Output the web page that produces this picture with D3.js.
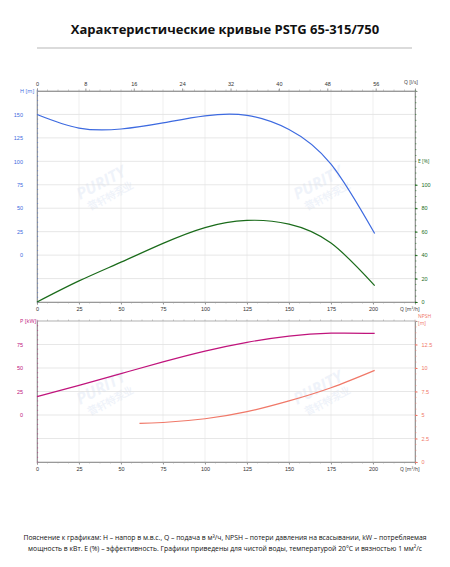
<!DOCTYPE html>
<html><head><meta charset="utf-8">
<script src="https://cdn.jsdelivr.net/npm/d3@7"></script>
<style>
body{margin:0;background:#fff;font-family:"Open Sans",sans-serif}
</style></head>
<body>
<svg id="c" width="450" height="567"></svg>
<script>
// Q flow points for each curve, m3/h
const hQ = [0, 25, 50, 75, 100, 125, 150, 175, 201];
const hVal = [150, 135.5, 134.5, 141, 148.5, 149, 134, 97, 23];
const eQ = [0, 25, 50, 75, 100, 125, 150, 175, 201];
const eVal = [0, 18, 34, 50, 63.5, 69.6, 66.5, 50.3, 14];
const pQ = [0, 25, 50, 75, 100, 125, 150, 175, 201];
const pVal = [19.6, 31.6, 44, 56.5, 68, 77.3, 84, 87, 86.8];
const nQ = [61, 75, 100, 125, 150, 175, 201];
const nVal = [4.1, 4.2, 4.6, 5.35, 6.5, 7.9, 9.75];
const qTicks = [0, 25, 50, 75, 100, 125, 150, 175, 200];
const lsTicks = [0, 8, 16, 24, 32, 40, 48, 56];

const svg = d3.select("#c");
const fs = 5.5;
const grey = "#999";
const cH = "#3d6ae0", cE = "#1a6b1a", cP = "#c0147c", cN = "#f07868";

svg.append("text").attr("x", 225).attr("y", 34).attr("text-anchor", "middle")
  .attr("font-size", 13).attr("font-weight", "bold").attr("fill", "#111")
  .text("Характеристические кривые PSTG 65-315/750");
svg.append("line").attr("x1", 37).attr("x2", 412).attr("y1", 48).attr("y2", 48)
  .attr("stroke", "#888").attr("stroke-width", 0.6);

const x = d3.scaleLinear().domain([0, 225]).range([37, 415]);

function watermark(cx, cy) {
  const g = svg.append("g").attr("transform", `translate(${cx},${cy}) rotate(-28)`).attr("opacity", 0.1);
  g.append("text").attr("font-size", 16).attr("font-weight", "bold").attr("font-style", "italic")
    .attr("fill", "#6b8fd0").text("PURITY");
  g.append("text").attr("y", 14).attr("x", 4).attr("font-size", 10).attr("font-weight", "bold")
    .attr("fill", "#6b8fd0").text("普轩特泵业");
}

function panel(top, bottom, yL, yR, lTicks, rTicks, colL, colR, labL, labR, gridTicks, topLs) {
  const g = svg.append("g");
  g.selectAll(".hg").data(gridTicks).join("line")
    .attr("x1", x(0)).attr("x2", x(225)).attr("y1", d => yL(d)).attr("y2", d => yL(d))
    .attr("stroke", "#ddd").attr("stroke-width", 0.7);
  g.selectAll(".vg").data(qTicks.slice(1)).join("line")
    .attr("x1", d => x(d)).attr("x2", d => x(d)).attr("y1", top).attr("y2", bottom)
    .attr("stroke", "#e4e4e4").attr("stroke-width", 0.6);
  g.append("rect").attr("x", x(0)).attr("y", top).attr("width", x(225) - x(0)).attr("height", bottom - top)
    .attr("fill", "none").attr("stroke", grey).attr("stroke-width", 0.6);

  const styleAxis = (a, col) => {
    a.selectAll("text").attr("font-size", fs).attr("fill", col || "#333");
    a.selectAll("line").attr("stroke", col || grey);
    a.select(".domain").attr("stroke", col || grey);
  };
  const minor = d3.range(0, 226, 6.25);
  const ab = g.append("g").attr("transform", `translate(0,${bottom})`)
    .call(d3.axisBottom(x).tickValues(qTicks).tickSize(2.5).tickPadding(3));
  styleAxis(ab);
  g.selectAll(".mb").data(minor).join("line").attr("x1", d => x(d)).attr("x2", d => x(d))
    .attr("y1", bottom).attr("y2", bottom + 1.5).attr("stroke", grey).attr("stroke-width", 0.5);
  g.append("text").attr("x", 400).attr("y", bottom + 9).attr("font-size", 5).attr("fill", "#333").text("Q [m³/h]");
  if (topLs) {
    const xl = d3.scaleLinear().domain([0, 225 / 3.6]).range([37, 415]);
    const at = g.append("g").attr("transform", `translate(0,${top})`)
      .call(d3.axisTop(xl).tickValues(lsTicks).tickSize(2.5).tickPadding(3));
    styleAxis(at);
    g.append("text").attr("x", 404).attr("y", top - 7).attr("font-size", 5).attr("fill", "#333").text("Q [l/s]");
  }
  g.selectAll(".mt").data(minor).join("line").attr("x1", d => x(d)).attr("x2", d => x(d))
    .attr("y1", top).attr("y2", top - 1.5).attr("stroke", grey).attr("stroke-width", 0.5);
  const al = g.append("g").attr("transform", `translate(${x(0)},0)`)
    .call(d3.axisLeft(yL).tickValues(lTicks).tickSize(0).tickPadding(14));
  styleAxis(al, colL);
  al.select(".domain").attr("stroke", grey);
  const ld = yL.domain();
  g.selectAll(".ml").data(d3.range(ld[0], ld[1] + 0.01, (lTicks[1] - lTicks[0]) / 5)).join("line")
    .attr("x1", x(0)).attr("x2", x(0) + 1.2).attr("y1", d => yL(d)).attr("y2", d => yL(d))
    .attr("stroke", colL).attr("stroke-width", 0.5);
  const ar = g.append("g").attr("transform", `translate(${x(225)},0)`)
    .call(d3.axisRight(yR).tickValues(rTicks).tickFormat(d3.format("~g")).tickSize(2.5).tickPadding(4));
  styleAxis(ar, colR);
  ar.select(".domain").attr("stroke", grey);
  const rd = yR.domain();
  g.selectAll(".mr").data(d3.range(rd[0], rd[1] + 0.01, (rTicks[1] - rTicks[0]) / 4)).join("line")
    .attr("x1", x(225)).attr("x2", x(225) + 1.5).attr("y1", d => yR(d)).attr("y2", d => yR(d))
    .attr("stroke", colR).attr("stroke-width", 0.5);
  g.append("text").attr("x", 20).attr("y", top + 2).attr("font-size", fs).attr("fill", colL).text(labL[0]);
  labR.forEach((t, i) => g.append("text").attr("x", 418).attr("y", labR.y0 + i * 7)
    .attr("font-size", 5).attr("fill", colR).text(t));
}

function curve(qs, vs, y, col) {
  svg.append("path").datum(qs.map((q, i) => [q, vs[i]]))
    .attr("d", d3.line().x(d => x(d[0])).y(d => y(d[1])).curve(d3.curveNatural))
    .attr("fill", "none").attr("stroke", col).attr("stroke-width", 1.2);
}

const yH = d3.scaleLinear().domain([-50, 175]).range([302, 91]);
const yE = d3.scaleLinear().domain([0, 180]).range([302, 91]);
watermark(80, 200); watermark(297, 200);
const lr1 = ["E [%]"]; lr1.y0 = 163;
panel(91, 302, yH, yE, [0, 25, 50, 75, 100, 125, 150], [0, 20, 40, 60, 80, 100], cH, cE,
  ["H [m]"], lr1, d3.range(-25, 176, 25), true);
curve(hQ, hVal, yH, cH);
curve(eQ, eVal, yE, cE);

const yP = d3.scaleLinear().domain([-50, 100]).range([462, 321]);
const yN = d3.scaleLinear().domain([0, 15]).range([462, 321]);
watermark(80, 405); watermark(297, 405);
const lr2 = ["NPSH", "[m]"]; lr2.y0 = 318;
panel(321, 462, yP, yN, [0, 25, 50, 75], [0, 2.5, 5, 7.5, 10, 12.5], cP, cN,
  ["P [kW]"], lr2, d3.range(-25, 101, 25), false);
curve(pQ, pVal, yP, cP);
curve(nQ, nVal, yN, cN);

const foot = svg.append("text").attr("font-size", 6.8).attr("fill", "#111").attr("text-anchor", "middle");
foot.append("tspan").attr("x", 225).attr("y", 540)
  .text("Пояснение к графикам: H – напор в м.в.с., Q – подача в м³/ч, NPSH – потери давления на всасывании, kW – потребляемая");
foot.append("tspan").attr("x", 225).attr("y", 551)
  .text("мощность в кВт. E (%) – эффективность.  Графики приведены для чистой воды, температурой 20°C и вязностью 1 мм²/с");
</script>
</body></html>
